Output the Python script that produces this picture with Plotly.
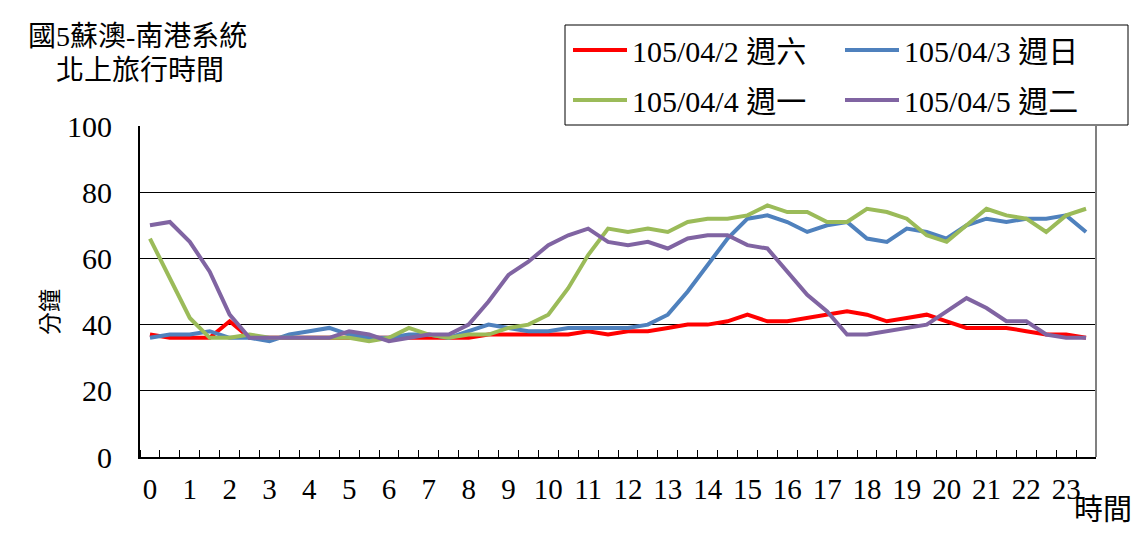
import plotly.graph_objects as go

hours = [i * 0.5 for i in range(48)]
hour_ticks = list(range(24))
hour_labels = [str(h) for h in hour_ticks]

names = ["105/04/2 週六", "105/04/3 週日", "105/04/4 週一", "105/04/5 週二"]
colors = ["#FF0000", "#4F81BD", "#9BBB59", "#8064A2"]

sat = [37, 36, 36, 36, 41, 36, 36, 36, 36, 36, 36, 36,
       36, 36, 36, 36, 36, 37, 37, 37, 37, 37, 38, 37,
       38, 38, 39, 40, 40, 41, 43, 41, 41, 42, 43, 44,
       43, 41, 42, 43, 41, 39, 39, 39, 38, 37, 37, 36]
sun = [36, 37, 37, 38, 36, 36, 35, 37, 38, 39, 37, 36,
       36, 37, 37, 36, 38, 40, 39, 38, 38, 39, 39, 39,
       39, 40, 43, 50, 58, 66, 72, 73, 71, 68, 70, 71,
       66, 65, 69, 68, 66, 70, 72, 71, 72, 72, 73, 68]
mon = [66, 54, 42, 36, 36, 37, 36, 36, 36, 36, 36, 35,
       36, 39, 37, 36, 37, 37, 39, 40, 43, 51, 61, 69,
       68, 69, 68, 71, 72, 72, 73, 76, 74, 74, 71, 71,
       75, 74, 72, 67, 65, 70, 75, 73, 72, 68, 73, 75]
tue = [70, 71, 65, 56, 43, 36, 36, 36, 36, 36, 38, 37,
       35, 36, 37, 37, 40, 47, 55, 59, 64, 67, 69, 65,
       64, 65, 63, 66, 67, 67, 64, 63, 56, 49, 44, 37,
       37, 38, 39, 40, 44, 48, 45, 41, 41, 37, 36, 36]
series = [sat, sun, mon, tue]

FONT = "Liberation Serif, Noto Sans CJK TC, serif"

fig = go.Figure()
for k, (nm, col, vals) in enumerate(zip(names, colors, series)):
    fig.add_trace(go.Scatter(
        x=hours, y=vals, mode="lines", name=nm,
        line=dict(color=col, width=4),
        legend="legend" if k < 2 else "legend2",
    ))

# page body has an 8px margin; positions below are in screen pixels
OFF = 8
W, H = 1141, 533
SX0, SX1, SY0, SY1 = 140, 1096, 126, 457   # plot area on screen
L, T = SX0 - OFF, SY0 - OFF
R, B = W - (SX1 - OFF), H - (SY1 - OFF)
pw, ph = W - L - R, H - T - B

def px(xs):
    return (xs - OFF - L) / pw

def py(ys):
    return (H - B - (ys - OFF)) / ph

leg_common = dict(
    orientation="h", xanchor="left", yanchor="middle",
    font=dict(family=FONT, size=30, color="#000000"),
    bgcolor="rgba(0,0,0,0)", borderwidth=0,
    itemwidth=54, entrywidth=203, entrywidthmode="pixels",
    traceorder="normal", itemclick=False,
)

fig.update_layout(
    width=W, height=H,
    margin=dict(l=L, r=R, t=T, b=B, pad=0, autoexpand=False),
    paper_bgcolor="#FFFFFF", plot_bgcolor="#FFFFFF",
    font=dict(family=FONT, size=24, color="#000000"),
    showlegend=True,
    legend=dict(x=px(568), y=py(50), **leg_common),
    legend2=dict(x=px(568), y=py(100), **leg_common),
    xaxis=dict(
        range=[-0.25, 23.75], tickmode="array", tickvals=hour_ticks,
        ticktext=hour_labels, ticks="", showgrid=False, zeroline=False,
        showline=True, linecolor="#000000", linewidth=2,
        tickfont=dict(family=FONT, size=29, color="#000000"),
        ticklabelstandoff=5,
        minor=dict(tick0=-0.25, dtick=0.5, ticks="inside", ticklen=7,
                   tickcolor="#000000", tickwidth=1, showgrid=False),
    ),
    yaxis=dict(
        range=[0, 100], dtick=20, tick0=0, showgrid=True,
        gridcolor="#000000", gridwidth=1, zeroline=False,
        showline=True, linecolor="#000000", linewidth=2, ticks="",
        tickfont=dict(family=FONT, size=30, color="#000000"),
        ticklabelstandoff=20,
    ),
)

shapes = [
    dict(type="line", xref="paper", yref="paper", x0=1, x1=1, y0=0, y1=1,
         line=dict(color="#808080", width=2)),
    dict(type="rect", xref="paper", yref="paper",
         x0=px(565), x1=px(1128), y0=py(25), y1=py(125),
         line=dict(color="#000000", width=1), fillcolor="rgba(0,0,0,0)"),
    dict(type="line", xref="paper", yref="paper",
         x0=px(7), x1=px(1150), y0=py(6), y1=py(6),
         line=dict(color="#000000", width=2)),
    dict(type="line", xref="paper", yref="paper",
         x0=px(7), x1=px(7), y0=py(6), y1=py(545),
         line=dict(color="#000000", width=2)),
]
fig.update_layout(shapes=shapes)

fig.add_annotation(text="國5蘇澳-南港系統", xref="paper", yref="paper",
                   x=px(26), y=py(37), xanchor="left", yanchor="middle",
                   showarrow=False, font=dict(family=FONT, size=28, color="#000000"))
fig.add_annotation(text="北上旅行時間", xref="paper", yref="paper",
                   x=px(54), y=py(70), xanchor="left", yanchor="middle",
                   showarrow=False, font=dict(family=FONT, size=28, color="#000000"))
fig.add_annotation(text="分鐘", xref="paper", yref="paper",
                   x=px(50), y=py(312), xanchor="center", yanchor="middle",
                   textangle=-90, showarrow=False,
                   font=dict(family=FONT, size=23, color="#000000"))
fig.add_annotation(text="時間", xref="paper", yref="paper",
                   x=px(1134), y=py(510), xanchor="right", yanchor="middle",
                   showarrow=False, font=dict(family=FONT, size=29, color="#000000"))

fig.write_html("out.html")
